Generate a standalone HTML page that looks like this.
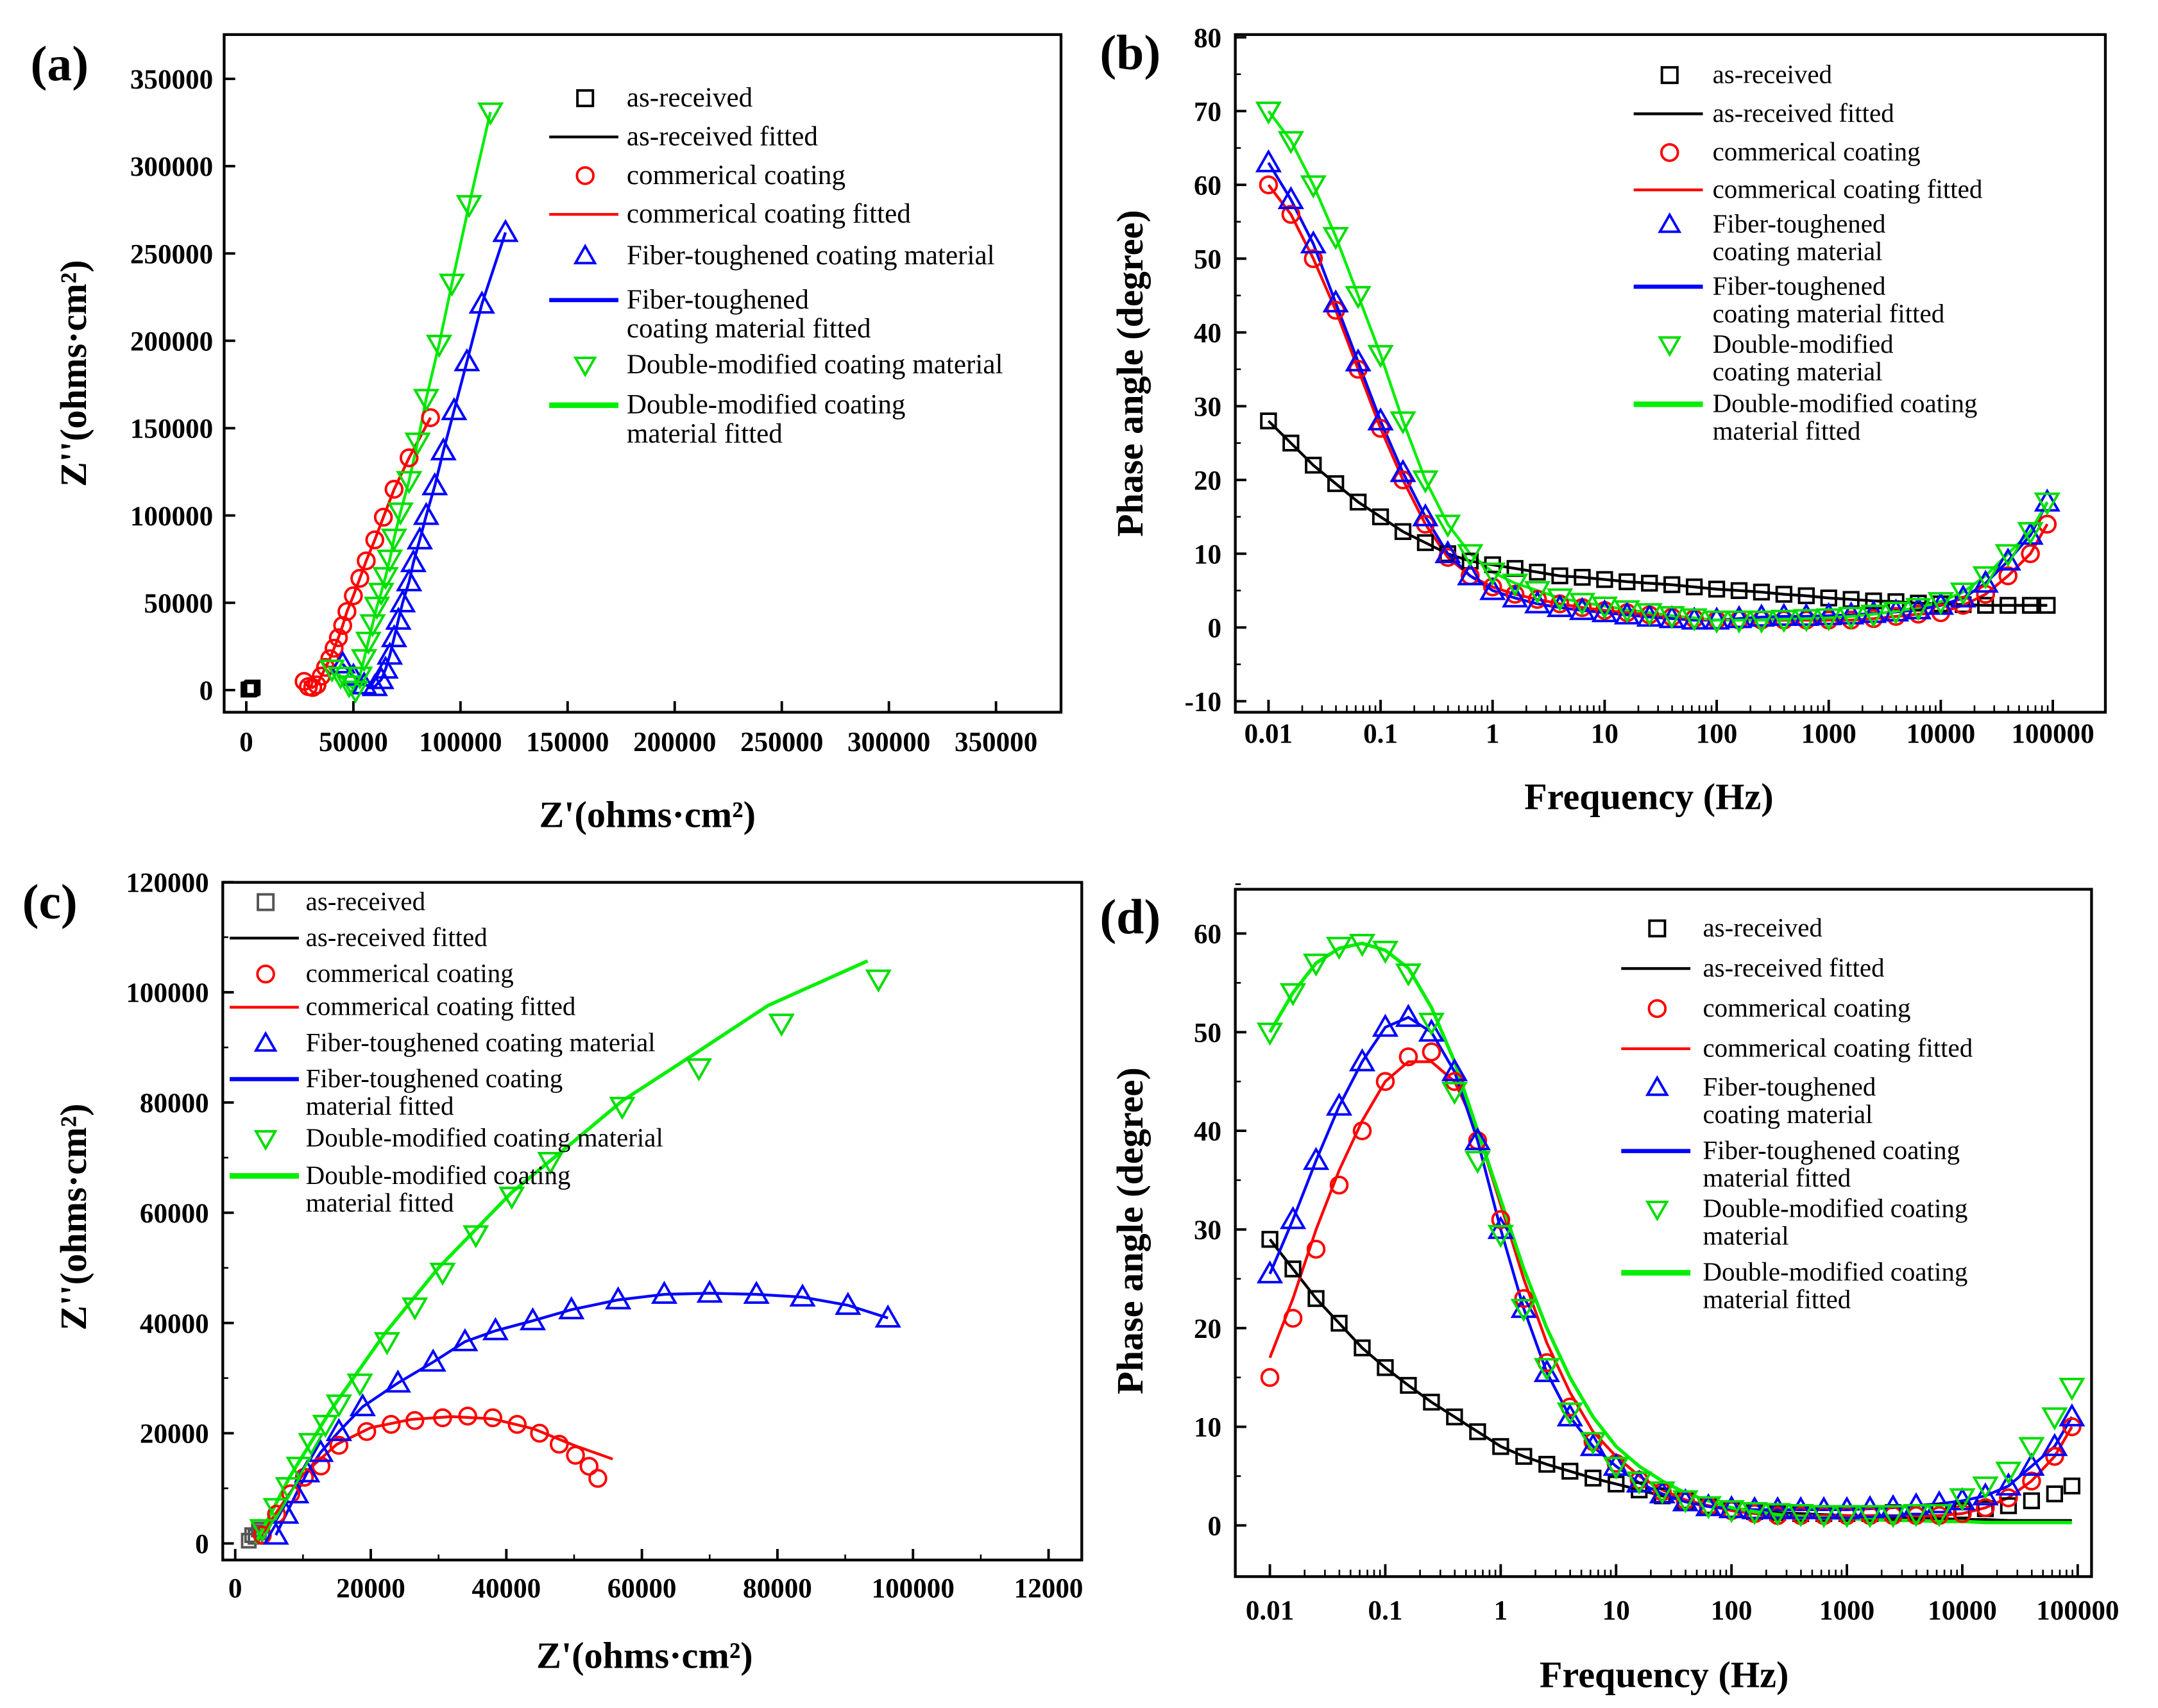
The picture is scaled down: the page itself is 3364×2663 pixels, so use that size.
<!DOCTYPE html>
<html><head><meta charset="utf-8"><style>
html,body{margin:0;padding:0;background:#fff;}
svg{display:block;}
text{font-family:"Liberation Serif",serif;}
</style></head><body>
<svg id="fig" width="3364" height="2663" viewBox="0 0 1560 1235" xmlns="http://www.w3.org/2000/svg"></svg>
<script>
// ---------- Panel (a) Nyquist data ----------
const aBlackX=[1500,3000,2500,1000];
const aBlackY=[500,1500,1000,300];
const aRedX=[27000,29000,31000,33000,35000,37000,39000,41000,43000,45000,47000,50000,53000,56000,60000,64000,69000,76000,86000];
const aRedY=[5000,2000,1500,3000,8000,13000,18000,24000,30000,37000,45000,54000,64000,74000,86000,99000,115000,133000,156000];
const aBlueX=[45000,50000,55000,60000,63000,65000,67000,69000,71000,73000,76000,78000,81000,84000,88000,92000,97000,103000,110000,121000];
const aBlueY=[15000,8000,3000,2000,6000,12000,20000,30000,40000,50000,62000,73000,86000,100000,117000,137000,160000,188000,221000,262000];
const aGreenX=[40000,44000,48000,51000,53000,55000,57000,59000,61000,63000,65000,67000,69000,72000,76000,80000,84000,90000,96000,104000,114000];
const aGreenY=[12000,8000,3000,0,8000,18000,28000,38000,48000,56000,65000,75000,87000,102000,120000,142000,167000,198000,233000,278000,331000];
const aTicks=[0,50000,100000,150000,200000,250000,300000,350000];

// ---------- Frequency (log10 Hz) shared by (b) and (d) ----------
const logF=[-2,-1.8,-1.6,-1.4,-1.2,-1,-0.8,-0.6,-0.4,-0.2,0,0.2,0.4,0.6,0.8,1,1.2,1.4,1.6,1.8,2,2.2,2.4,2.6,2.8,3,3.2,3.4,3.6,3.8,4,4.2,4.4,4.6,4.8,4.95];
const fLabels=["0.01","0.1","1","10","100","1000","10000","100000"];

// ---------- Panel (b) ----------
const bBlack=[28,25,22,19.5,17,15,13,11.5,10,9,8.5,8,7.5,7,6.8,6.5,6.2,6,5.8,5.5,5.2,5,4.8,4.5,4.3,4,3.8,3.6,3.5,3.3,3.2,3.1,3,3,3,3];
const bRed=[60,56,50,43,35,27,20,14,9.5,7,5.5,4.5,3.8,3.2,2.7,2.3,2,1.7,1.4,1.2,1,1,1,1,1,1,1,1.2,1.5,1.8,2,3,4.5,7,10,14];
const bBlue=[63,58,52,44,36,28,21,15,10,7,5,4,3.2,2.7,2.3,2,1.7,1.4,1.2,1,1,1.2,1.4,1.5,1.5,1.6,1.7,1.9,2.1,2.4,3,4,6,9,12.5,17];
const bGreen=[70,66,60,53,45,37,28,20,14,10,7.5,6,5,4,3.4,2.9,2.4,2,1.6,1.3,1,1,1,1.1,1.2,1.3,1.5,1.8,2.2,2.7,3.5,4.8,7,10,13,17];
const bTicks=[-10,0,10,20,30,40,50,60,70,80];

// ---------- Panel (c) Nyquist ----------
const cBlackX=[2000,3000,4000,3500,2500];
const cBlackY=[500,1200,2000,2500,1500];
const cRedX=[4000,6100,8200,10200,12650,15300,19400,23000,26500,30600,34300,38000,41600,44900,47800,50200,52200,53500];
const cRedY=[1500,5300,9000,12000,14050,17800,20300,21600,22300,22800,23100,22800,21600,20000,18000,16000,14000,11800];
const cRedFitX=[3000,6000,10000,15000,20000,26000,32000,38000,44000,50000,55700];
const cRedFitY=[0,5500,12500,18000,21000,22500,23000,22600,20800,17800,15300];
const cBlueX=[6000,7500,9000,10600,12600,15300,18800,24000,29200,33900,38400,43900,49600,56500,63300,70000,76900,83700,90400,96300];
const cBlueY=[1500,5300,9000,12800,16500,20300,24800,29100,32900,36600,38600,40400,42400,44200,45200,45400,45200,44700,43200,40900];
const cGreenX=[4000,6000,7800,9400,11200,13300,15300,18400,22400,26500,30600,35500,40800,46500,57100,68400,80600,94900];
const cGreenY=[2700,6500,10300,14000,18300,21600,25300,29100,36600,42900,49200,56000,63000,69300,79300,86300,94400,102400];
const cGreenFitX=[3000,8000,14000,22000,30000,40800,50000,57100,68000,78600,93300];
const cGreenFitY=[0,12000,24000,38000,50000,63700,73000,80300,89000,97600,105700];
const cTicks=[0,20000,40000,60000,80000,100000,120000];
const cXLabels=["0","20000","40000","60000","80000","100000","12000"];

// ---------- Panel (d) ----------
const dBlack=[29,26,23,20.5,18,16,14.2,12.5,11,9.5,8,7,6.2,5.5,4.8,4.2,3.6,3,2.5,2,1.6,1.4,1.3,1.2,1.2,1.2,1.2,1.3,1.3,1.4,1.5,1.7,2,2.5,3.2,4];
const dBlackFit=[29,26,23,20.5,18,16,14.2,12.5,11,9.5,8,7,6.2,5.5,4.8,4.2,3.6,3,2.5,2,1.6,1.4,1.3,1.2,1.1,1,0.9,0.8,0.7,0.7,0.6,0.6,0.5,0.5,0.5,0.5];
const dRed=[15,21,28,34.5,40,45,47.5,48,45,39,31,23,16.5,12,8.5,6.3,4.6,3.4,2.5,1.9,1.5,1.2,1,1,1,1,1,1,1,1,1.2,1.8,2.8,4.5,7,10];
const dRedFit=[17,23,30,36,41,45,47,47,45,40,32.5,25,18.5,13.5,9.5,7,5,3.6,2.6,2,1.5,1.2,1,1,1,1,1,1,1,1,1.2,1.8,2.8,4.5,7,10];
const dBlue=[25.5,31,37,42.5,47,50.5,51.5,50,46,39,30,22,15.5,11,8,6,4.3,3.2,2.4,1.9,1.7,1.6,1.6,1.6,1.6,1.6,1.7,1.8,2,2.2,2.5,3,4,6,8,11];
const dGreen=[50,54,57,58.7,59,58.3,56,51,44,37,29.5,22,16,11.5,8.5,6,4.5,3.5,2.6,2,1.6,1.4,1.3,1.2,1.1,1.1,1.1,1.1,1.2,1.2,2.8,4,5.5,8,11,14];
const dGreenFit=[50,54,57,58.5,59,58.3,56.5,52.5,47,40,33,26,20,15,11,8,6,4.5,3.3,2.5,1.8,1.4,1.1,0.9,0.8,0.7,0.6,0.5,0.5,0.4,0.4,0.3,0.3,0.3,0.3,0.3];
const dTicks=[0,10,20,30,40,50,60];

const NS="http://www.w3.org/2000/svg";
const svg=document.getElementById('fig');
function el(tag,attrs,parent){const e=document.createElementNS(NS,tag);for(const k in attrs)e.setAttribute(k,attrs[k]);(parent||svg).appendChild(e);return e;}
function txt(x,y,s,size,weight,anchor,parent,rot){const t=el('text',{x:x,y:y,'font-size':size,'font-weight':weight||'normal','text-anchor':anchor||'start'},parent);if(rot)t.setAttribute('transform',`rotate(${rot} ${x} ${y})`);t.textContent=s;return t;}
function lin(d0,d1,p0,p1){return v=>p0+(v-d0)*(p1-p0)/(d1-d0);}
function marker(g,type,x,y,color,r){
  r=r||6.5;let m;
  if(type==='sq')m=el('rect',{x:x-r*0.8,y:y-r*0.8,width:r*1.6,height:r*1.6,fill:'none',stroke:color,'stroke-width':1.8},g);
  else if(type==='ci')m=el('circle',{cx:x,cy:y,r:r*0.85,fill:'none',stroke:color,'stroke-width':1.8},g);
  else if(type==='tu')m=el('polygon',{points:`${x},${y-r} ${x-r},${y+r*0.75} ${x+r},${y+r*0.75}`,fill:'none',stroke:color,'stroke-width':1.8},g);
  else m=el('polygon',{points:`${x},${y+r} ${x-r},${y-r*0.75} ${x+r},${y-r*0.75}`,fill:'none',stroke:color,'stroke-width':1.8},g);
  return m;
}
function polyline(g,xs,ys,sx,sy,color,w){
  const pts=xs.map((v,i)=>sx(v).toFixed(1)+','+sy(ys[i]).toFixed(1)).join(' ');
  return el('polyline',{points:pts,fill:'none',stroke:color,'stroke-width':w||2},g);
}
function markers(g,xs,ys,sx,sy,type,color,r){xs.forEach((v,i)=>{const m=marker(g,type,sx(v),sy(ys[i]),color,r);

});}
function box(g,x0,y0,x1,y1){const r=el('rect',{x:x0,y:y0,width:x1-x0,height:y1-y0,fill:'none',stroke:'#000','stroke-width':2},g);

}
function legend(g,items,mx,tx,size){
  items.forEach(it=>{
    const lg=el('g',{},g);
    
    
    if(it.m)marker(lg,it.m,mx,it.y-size*0.3,it.c,7);
    else el('line',{x1:mx-26,y1:it.y-size*0.3,x2:mx+24,y2:it.y-size*0.3,stroke:it.c,'stroke-width':it.w||2},lg);
    it.t.forEach((s,k)=>txt(tx,it.y+k*size*1.05,s,size,'normal','start',lg));
  });
}
function logAxis(g,sx,yb,yt,fLabelsY,size){
  for(let d=-2;d<=5;d++){
    el('line',{x1:sx(d),y1:yb,x2:sx(d),y2:yb-9,stroke:'#000','stroke-width':1.8},g);
    const t=txt(sx(d),fLabelsY,fLabels[d+2],size,'bold','middle',g);
    
    
    if(d<5)for(let k=2;k<10;k++){const xx=sx(d+Math.log10(k));el('line',{x1:xx,y1:yb,x2:xx,y2:yb-5,stroke:'#000','stroke-width':1.2},g);}
  }
}

// ===== Panel (a) =====
(function(){
  const g=el('g',{});
  const L=162,R=767,T=25,B=515;
  const sx=lin(0,350000,178,720), sy=lin(0,350000,499,57);
  box(g,L,T,R,B);
  aTicks.forEach(v=>{el('line',{x1:L,y1:sy(v),x2:L+8,y2:sy(v),stroke:'#000','stroke-width':1.8},g);
    el('line',{x1:sx(v),y1:B,x2:sx(v),y2:B-8,stroke:'#000','stroke-width':1.8},g);
    const ty=txt(L-8,sy(v)+7,String(v),20,'bold','end',g);
    const tx=txt(sx(v),543,String(v),20,'bold','middle',g);});
  polyline(g,aRedX,aRedY,sx,sy,'#ff0000',2);
  polyline(g,aBlueX,aBlueY,sx,sy,'#0000ff',2);
  polyline(g,aGreenX,aGreenY,sx,sy,'#00ee00',2);
  markers(g,aBlackX,aBlackY,sx,sy,'sq','#000',6);
  markers(g,aRedX,aRedY,sx,sy,'ci','#ff0000',7);
  markers(g,aBlueX,aBlueY,sx,sy,'tu','#0000ff',8);
  markers(g,aGreenX,aGreenY,sx,sy,'td','#00dd00',8);
  legend(g,[{m:'sq',c:'#000',y:77,t:['as-received']},{c:'#000',y:105,t:['as-received fitted']},{m:'ci',c:'#f00',y:133,t:['commerical coating']},{c:'#f00',y:161,t:['commerical coating fitted']},{m:'tu',c:'#00f',y:191,t:['Fiber-toughened coating material']},{c:'#00f',w:3,y:223,t:['Fiber-toughened','coating  material fitted']},{m:'td',c:'#0d0',y:270,t:['Double-modified coating material']},{c:'#0e0',w:4,y:299,t:['Double-modified coating','material fitted']}],423,453,20);
  const p=txt(22,58,'(a)',36,'bold','start',g);
  const yt=txt(62,270,"Z''(ohms·cm²)",27,'bold','middle',g,-90);
  const xt=txt(468,598,"Z'(ohms·cm²)",27,'bold','middle',g);
})();

// ===== Panel (b) =====
(function(){
  const g=el('g',{});
  const L=893,R=1522,T=25,B=515;
  const sx=lin(-2,5,917,1484), sy=lin(0,80,453.7,27);
  box(g,L,T,R,B);
  bTicks.forEach(v=>{el('line',{x1:L,y1:sy(v),x2:L+8,y2:sy(v),stroke:'#000','stroke-width':1.8},g);
    if(v<80)el('line',{x1:L,y1:sy(v+5),x2:L+4,y2:sy(v+5),stroke:'#000','stroke-width':1.2},g);
    const t=txt(L-10,sy(v)+7,String(v),20,'bold','end',g);});
  logAxis(g,sx,B,T,537,20);
  polyline(g,logF,bBlack,sx,sy,'#000',2);
  polyline(g,logF,bRed,sx,sy,'#f00',2);
  polyline(g,logF,bBlue,sx,sy,'#00f',2);
  polyline(g,logF,bGreen,sx,sy,'#0e0',2);
  markers(g,logF,bBlack,sx,sy,'sq','#000',6.5);
  markers(g,logF,bRed,sx,sy,'ci','#f00',7);
  markers(g,logF,bBlue,sx,sy,'tu','#00f',8);
  markers(g,logF,bGreen,sx,sy,'td','#0d0',8);
  legend(g,[{m:'sq',c:'#000',y:60,t:['as-received']},{c:'#000',y:88,t:['as-received fitted']},{m:'ci',c:'#f00',y:116,t:['commerical coating']},{c:'#f00',y:143,t:['commerical coating fitted']},{m:'tu',c:'#00f',y:168,t:['Fiber-toughened','coating material']},{c:'#00f',w:3,y:213,t:['Fiber-toughened','coating  material fitted']},{m:'td',c:'#0d0',y:255,t:['Double-modified','coating material']},{c:'#0e0',w:4,y:298,t:['Double-modified coating','material fitted']}],1207,1238,19);
  const p=txt(795,50,'(b)',36,'bold','start',g);
  const yt=txt(826,270,'Phase angle (degree)',27,'bold','middle',g,-90);
  const xt=txt(1192,585,'Frequency (Hz)',27,'bold','middle',g);
})();

// ===== Panel (c) =====
(function(){
  const g=el('g',{});
  const L=161,R=782,T=638,B=1128;
  const sx=lin(0,20000,170,268), sy=lin(0,20000,1116,1036.3);
  box(g,L,T,R,B);
  cTicks.forEach((v,i)=>{el('line',{x1:L,y1:sy(v),x2:L+8,y2:sy(v),stroke:'#000','stroke-width':1.8},g);
    el('line',{x1:sx(v),y1:B,x2:sx(v),y2:B-8,stroke:'#000','stroke-width':1.8},g);
    if(v<120000){
      el('line',{x1:L,y1:sy(v+10000),x2:L+4,y2:sy(v+10000),stroke:'#000','stroke-width':1.2},g);
      el('line',{x1:sx(v+10000),y1:B,x2:sx(v+10000),y2:B-4,stroke:'#000','stroke-width':1.2},g);
    }
    const ty=txt(L-10,sy(v)+7,String(v),20,'bold','end',g);
    const tx=txt(sx(v),1155,cXLabels[i],20,'bold','middle',g);});
  markers(g,cBlackX,cBlackY,sx,sy,'sq','#555',6);
  polyline(g,cRedFitX,cRedFitY,sx,sy,'#f00',2);
  polyline(g,cBlueX,cBlueY,sx,sy,'#00f',2);
  polyline(g,cGreenFitX,cGreenFitY,sx,sy,'#0e0',2.5);
  markers(g,cRedX,cRedY,sx,sy,'ci','#f00',7);
  markers(g,cBlueX,cBlueY,sx,sy,'tu','#00f',8);
  markers(g,cGreenX,cGreenY,sx,sy,'td','#0d0',8);
  legend(g,[{m:'sq',c:'#555',y:658,t:['as-received']},{c:'#000',y:684,t:['as-received fitted']},{m:'ci',c:'#f00',y:710,t:['commerical coating']},{c:'#f00',y:734,t:['commerical coating fitted']},{m:'tu',c:'#00f',y:760,t:['Fiber-toughened coating material']},{c:'#00f',w:3,y:786,t:['Fiber-toughened coating','material fitted']},{m:'td',c:'#0d0',y:829,t:['Double-modified coating material']},{c:'#0e0',w:4,y:856,t:['Double-modified coating','material fitted']}],192,221,19);
  const p=txt(16,664,'(c)',36,'bold','start',g);
  const yt=txt(62,880,"Z''(ohms·cm²)",27,'bold','middle',g,-90);
  const xt=txt(466,1206,"Z'(ohms·cm²)",27,'bold','middle',g);
})();

// ===== Panel (d) =====
(function(){
  const g=el('g',{});
  const L=893,R=1512,T=643,B=1140;
  const sx=lin(-2,5,918,1502), sy=lin(0,60,1103,675);
  box(g,L,T,R,B);
  dTicks.forEach(v=>{el('line',{x1:L,y1:sy(v),x2:L+8,y2:sy(v),stroke:'#000','stroke-width':1.8},g);
    el('line',{x1:L,y1:sy(v+5),x2:L+4,y2:sy(v+5),stroke:'#000','stroke-width':1.2},g);
    const t=txt(L-10,sy(v)+7,String(v),20,'bold','end',g);});
  logAxis(g,sx,B,T,1171,20);
  polyline(g,logF,dBlackFit,sx,sy,'#000',2);
  polyline(g,logF,dRedFit,sx,sy,'#f00',2);
  polyline(g,logF,dBlue,sx,sy,'#00f',2);
  polyline(g,logF,dGreenFit,sx,sy,'#0e0',2.5);
  markers(g,logF,dBlack,sx,sy,'sq','#000',6.5);
  markers(g,logF,dRed,sx,sy,'ci','#f00',7);
  markers(g,logF,dBlue,sx,sy,'tu','#00f',8);
  markers(g,logF,dGreen,sx,sy,'td','#0d0',8);
  legend(g,[{m:'sq',c:'#000',y:677,t:['as-received']},{c:'#000',y:706,t:['as-received fitted']},{m:'ci',c:'#f00',y:735,t:['commerical coating']},{c:'#f00',y:764,t:['commerical coating fitted']},{m:'tu',c:'#00f',y:792,t:['Fiber-toughened','coating material']},{c:'#00f',w:3,y:838,t:['Fiber-toughened coating','material fitted']},{m:'td',c:'#0d0',y:880,t:['Double-modified coating','material']},{c:'#0e0',w:4,y:926,t:['Double-modified coating','material fitted']}],1198,1231,19);
  const p=txt(795,675,'(d)',36,'bold','start',g);
  const yt=txt(826,890,'Phase angle (degree)',27,'bold','middle',g,-90);
  const xt=txt(1203,1220,'Frequency (Hz)',27,'bold','middle',g);
})();
</script>
</body></html>
